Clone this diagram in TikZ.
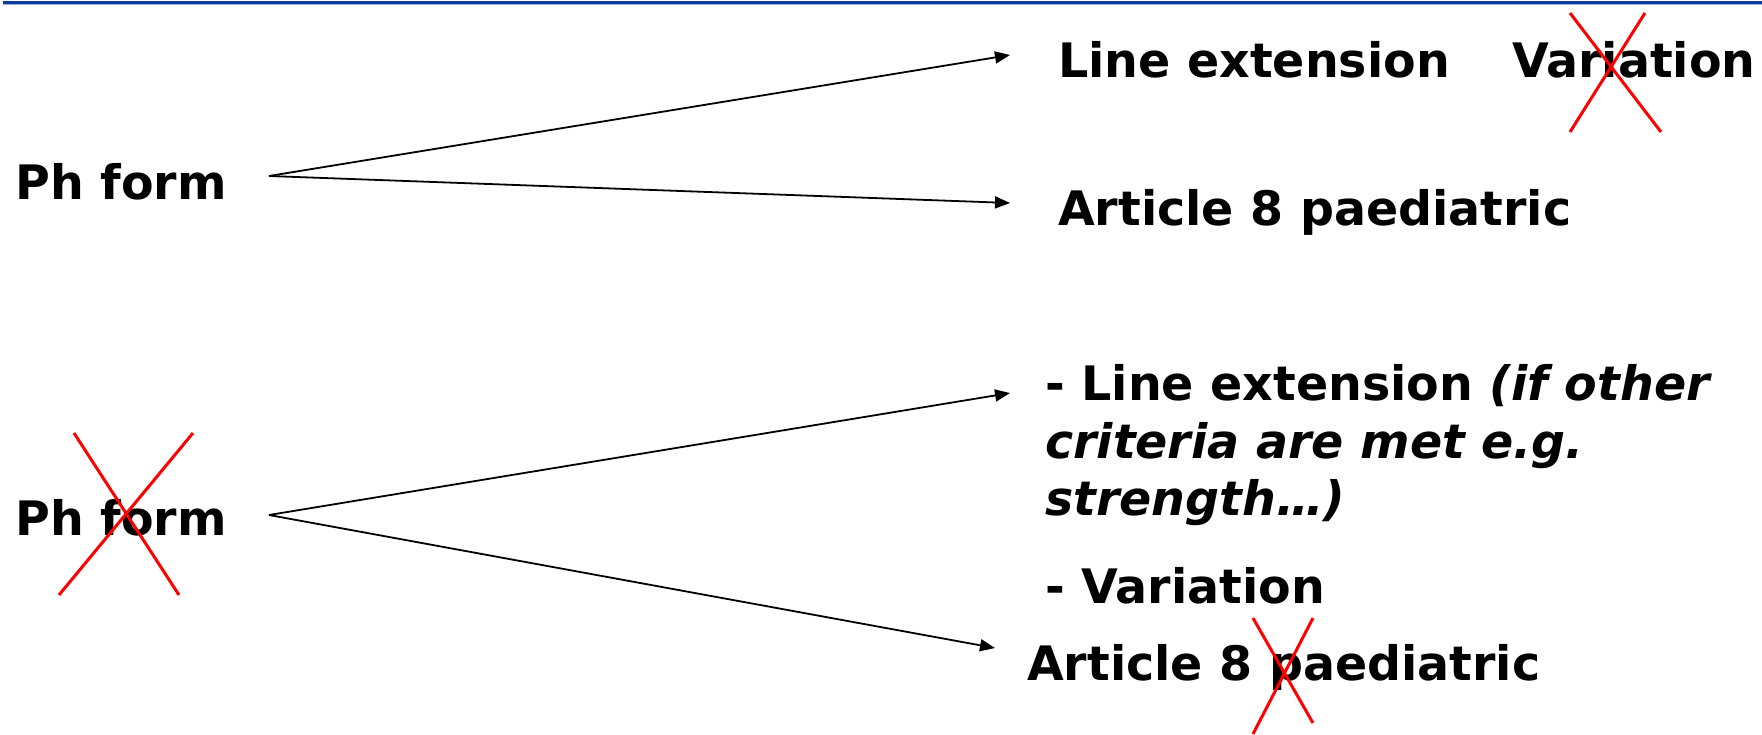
\documentclass[tikz,border=0pt]{standalone}
\usepackage{fontspec}
\setmainfont{DejaVu Sans}
\usetikzlibrary{arrows.meta}

\definecolor{barblue}{HTML}{0B3C9C}
\definecolor{barlight}{HTML}{9DB3DD}
\definecolor{crossred}{HTML}{FF0000}

\begin{document}
\begin{tikzpicture}[
    x=1pt, y=-1pt,
    lbl/.style={anchor=base west, inner sep=0pt, font=\fontsize{47.5pt}{57.5pt}\selectfont\bfseries},
    arrow/.style={-{Triangle[length=15pt,width=12pt]}, line width=1.8pt},
    cross/.style={crossred, line width=3pt}
  ]
    \useasboundingbox (0,0) rectangle (1762,734);
    % header rule
    \draw[barblue, line width=3pt] (3,2) -- (1762,2);
    \draw[barlight, line width=1.5pt] (3,4.5) -- (1762,4.5);

    % upper case
    \node[lbl] (form1) at (15,199) {Ph form};
    \node[lbl] (ext1) at (1058,77) {Line extension};
    \node[lbl] (var1) at (1512,77) {Variation};
    \node[lbl] (art1) at (1058,225) {Article 8 paediatric};
    \coordinate (src1) at (269,176);
    \coordinate (tip1) at (1010,55);
    \coordinate (tip2) at (1010,203);
    \draw[arrow] (src1) -- (tip1);
    \draw[arrow] (src1) -- (tip2);
    \draw[cross] (1570,13) -- (1661,132);
    \draw[cross] (1645,13) -- (1570,132);

    % lower case
    \node[lbl] (form2) at (15,535) {Ph form};
    \node[lbl] (ext2) at (1045,400) {- Line extension \textit{(if other}};
    \node[lbl] (crit2) at (1045,458) {\textit{criteria are met e.g.}};
    \node[lbl] (str2) at (1045,515) {\textit{strength…)}};
    \node[lbl] (var2) at (1045,603) {- Variation};
    \node[lbl] (art2) at (1027,680) {Article 8 paediatric};
    \coordinate (src2) at (269,515);
    \coordinate (tip3) at (1010,393);
    \coordinate (tip4) at (995,648);
    \draw[arrow] (src2) -- (tip3);
    \draw[arrow] (src2) -- (tip4);
    \draw[cross] (74,433) -- (179,595);
    \draw[cross] (193,433) -- (59,595);
    \draw[cross] (1253,618) -- (1313,723);
    \draw[cross] (1313,618) -- (1253,734);
\end{tikzpicture}
\end{document}
